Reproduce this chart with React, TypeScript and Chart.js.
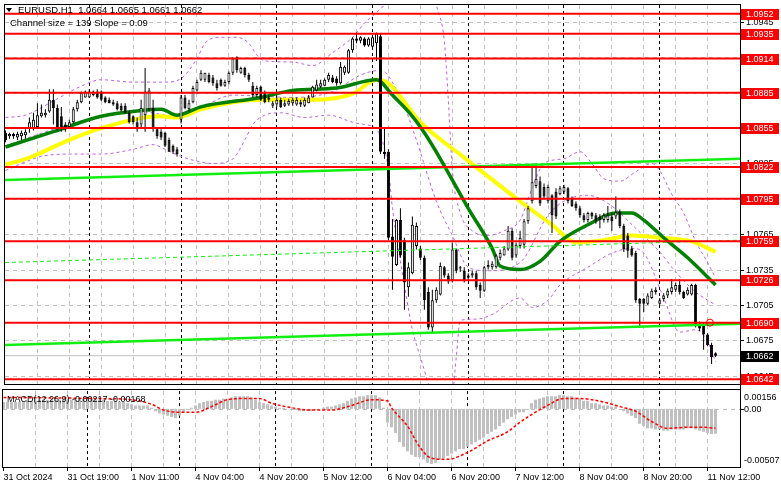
import React, { useEffect, useRef } from "react";
import { Chart, registerables } from "chart.js";

Chart.register(...registerables);

// ---------------- DATA ----------------
const SYMBOL = "EURUSD,H1";
const CHANNEL_TEXT = "Channel size = 139 Slope = 0.09";
const MACD_TEXT = "MACD(12,26,9) -0.00217 -0.00168";

const opens = [
  1.0851,1.0848,1.0850,1.0847,1.0848,1.0849,1.0855,1.0855,1.0856,1.0865,
  1.0866,1.0869,1.0879,1.0872,1.0865,1.0858,1.0856,1.0860,1.0871,1.0877,
  1.0881,1.0881,1.0883,1.0886,1.0886,1.0881,1.0879,1.0877,1.0876,1.0874,
  1.0874,1.0868,1.0865,1.0860,1.0858,1.0866,1.0871,1.0872,1.0854,1.0852,
  1.0851,1.0845,1.0840,1.0837,1.0862,1.0881,1.0871,1.0877,1.0887,1.0896,
  1.0896,1.0900,1.0898,1.0893,1.0896,1.0891,1.0894,1.0902,1.0915,1.0902,
  1.0906,1.0900,1.0891,1.0883,1.0890,1.0885,1.0881,1.0874,1.0875,1.0879,
  1.0874,1.0875,1.0876,1.0875,1.0877,1.0874,1.0876,1.0881,1.0887,1.0890,
  1.0891,1.0896,1.0898,1.0897,1.0893,1.0902,1.0902,1.0921,1.0931,1.0929,
  1.0931,1.0925,1.0924,1.0927,1.0933,1.0835,1.0835,1.0763,1.0739,1.0777,
  1.0760,1.0720,1.0732,1.0755,1.0753,1.0745,1.0716,1.0686,1.0709,1.0714,
  1.0737,1.0730,1.0726,1.0752,1.0737,1.0734,1.0730,1.0730,1.0732,1.0722,
  1.0717,1.0737,1.0737,1.0737,1.0745,1.0747,1.0752,1.0768,1.0747,1.0755,
  1.0756,1.0776,1.0793,1.0806,1.0810,1.0805,1.0793,1.0798,1.0801,1.0799,
  1.0801,1.0804,1.0795,1.0791,1.0787,1.0781,1.0777,1.0783,1.0781,1.0780,
  1.0777,1.0777,1.0780,1.0780,1.0784,1.0772,1.0764,1.0753,1.0749,1.0710,
  1.0710,1.0706,1.0711,1.0716,1.0706,1.0710,1.0713,1.0716,1.0718,1.0722,
  1.0716,1.0714,1.0714,1.0722,1.0689,1.0688,1.0680,1.0671,1.0664,
];
const highs = [
  1.0853,1.0851,1.0851,1.0852,1.0853,1.0854,1.0864,1.0868,1.0876,1.0875,
  1.0871,1.0888,1.0888,1.0875,1.0873,1.0860,1.0862,1.0873,1.0879,1.0886,
  1.0887,1.0888,1.0887,1.0888,1.0887,1.0882,1.0881,1.0879,1.0878,1.0876,
  1.0876,1.0870,1.0866,1.0864,1.0879,1.0906,1.0889,1.0879,1.0855,1.0854,
  1.0852,1.0847,1.0841,1.0839,1.0883,1.0883,1.0879,1.0891,1.0896,1.0904,
  1.0902,1.0902,1.0900,1.0896,1.0897,1.0896,1.0903,1.0915,1.0916,1.0907,
  1.0907,1.0902,1.0894,1.0891,1.0891,1.0887,1.0883,1.0878,1.0881,1.0881,
  1.0879,1.0880,1.0881,1.0881,1.0879,1.0881,1.0883,1.0891,1.0896,1.0896,
  1.0897,1.0902,1.0900,1.0899,1.0911,1.0908,1.0922,1.0932,1.0936,1.0933,
  1.0932,1.0932,1.0933,1.0936,1.0935,1.0856,1.0837,1.0778,1.0778,1.0787,
  1.0762,1.0741,1.0780,1.0775,1.0755,1.0747,1.0720,1.0718,1.0720,1.0741,
  1.0738,1.0732,1.0758,1.0753,1.0738,1.0737,1.0732,1.0734,1.0734,1.0724,
  1.0738,1.0743,1.0742,1.0748,1.0752,1.0755,1.0772,1.0770,1.0758,1.0768,
  1.0778,1.0789,1.0825,1.0825,1.0814,1.0808,1.0807,1.0799,1.0804,1.0806,
  1.0807,1.0805,1.0797,1.0793,1.0789,1.0783,1.0784,1.0784,1.0783,1.0782,
  1.0783,1.0789,1.0783,1.0797,1.0786,1.0774,1.0766,1.0755,1.0751,1.0711,
  1.0711,1.0715,1.0719,1.0720,1.0711,1.0715,1.0719,1.0727,1.0724,1.0727,
  1.0717,1.0720,1.0723,1.0723,1.0691,1.0690,1.0681,1.0673,1.0665,
];
const lows = [
  1.0843,1.0846,1.0846,1.0845,1.0845,1.0846,1.0851,1.0853,1.0855,1.0864,
  1.0864,1.0868,1.0858,1.0853,1.0852,1.0852,1.0855,1.0859,1.0869,1.0876,
  1.0881,1.0881,1.0882,1.0880,1.0878,1.0876,1.0876,1.0874,1.0870,1.0869,
  1.0867,1.0859,1.0858,1.0852,1.0855,1.0852,1.0869,1.0852,1.0846,1.0845,
  1.0839,1.0835,1.0833,1.0831,1.0859,1.0871,1.0869,1.0876,1.0886,1.0895,
  1.0894,1.0893,1.0891,1.0887,1.0890,1.0890,1.0892,1.0900,1.0902,1.0901,
  1.0898,1.0894,1.0881,1.0881,1.0878,1.0876,1.0877,1.0872,1.0873,1.0872,
  1.0873,1.0874,1.0874,1.0874,1.0873,1.0873,1.0876,1.0881,1.0886,1.0889,
  1.0891,1.0894,1.0893,1.0891,1.0892,1.0900,1.0901,1.0919,1.0927,1.0927,
  1.0924,1.0924,1.0923,1.0912,1.0833,1.0829,1.0760,1.0718,1.0738,1.0745,
  1.0701,1.0712,1.0731,1.0752,1.0743,1.0701,1.0684,1.0681,1.0707,1.0713,
  1.0728,1.0723,1.0724,1.0732,1.0733,1.0724,1.0726,1.0728,1.0718,1.0711,
  1.0716,1.0735,1.0735,1.0736,1.0743,1.0747,1.0751,1.0743,1.0745,1.0753,
  1.0753,1.0774,1.0791,1.0804,1.0789,1.0795,1.0791,1.0766,1.0778,1.0798,
  1.0799,1.0791,1.0788,1.0785,1.0779,1.0775,1.0775,1.0778,1.0774,1.0770,
  1.0775,1.0775,1.0768,1.0778,1.0770,1.0750,1.0745,1.0746,1.0707,1.0686,
  1.0699,1.0705,1.0710,1.0714,1.0704,1.0708,1.0711,1.0714,1.0716,1.0714,
  1.0710,1.0713,1.0713,1.0686,1.0683,1.0667,1.0670,1.0655,1.0661,
];
const closes = [
  1.0845,1.0850,1.0848,1.0850,1.0851,1.0852,1.0860,1.0862,1.0866,1.0868,
  1.0868,1.0879,1.0872,1.0855,1.0854,1.0854,1.0860,1.0871,1.0877,1.0885,
  1.0886,1.0886,1.0886,1.0881,1.0879,1.0877,1.0876,1.0875,1.0871,1.0870,
  1.0868,1.0860,1.0860,1.0854,1.0872,1.0886,1.0887,1.0854,1.0848,1.0847,
  1.0840,1.0835,1.0835,1.0833,1.0881,1.0872,1.0876,1.0889,1.0894,1.0902,
  1.0902,1.0894,1.0893,1.0889,1.0891,1.0894,1.0902,1.0914,1.0904,1.0906,
  1.0900,1.0896,1.0883,1.0889,1.0879,1.0877,1.0879,1.0876,1.0879,1.0873,
  1.0876,1.0878,1.0879,1.0879,1.0875,1.0879,1.0881,1.0890,1.0892,1.0893,
  1.0896,1.0900,1.0894,1.0893,1.0907,1.0907,1.0921,1.0931,1.0929,1.0932,
  1.0925,1.0931,1.0932,1.0935,1.0835,1.0833,1.0762,1.0746,1.0777,1.0747,
  1.0724,1.0737,1.0773,1.0772,1.0745,1.0709,1.0686,1.0709,1.0718,1.0738,
  1.0730,1.0725,1.0752,1.0734,1.0736,1.0726,1.0728,1.0732,1.0720,1.0717,
  1.0737,1.0739,1.0740,1.0747,1.0749,1.0753,1.0768,1.0745,1.0756,1.0762,
  1.0776,1.0787,1.0809,1.0812,1.0791,1.0797,1.0805,1.0781,1.0780,1.0804,
  1.0805,1.0793,1.0789,1.0787,1.0781,1.0777,1.0783,1.0780,1.0776,1.0777,
  1.0781,1.0781,1.0776,1.0784,1.0772,1.0752,1.0751,1.0747,1.0709,1.0706,
  1.0706,1.0713,1.0717,1.0718,1.0709,1.0713,1.0717,1.0720,1.0722,1.0716,
  1.0711,1.0718,1.0722,1.0688,1.0685,1.0680,1.0671,1.0661,1.0662,
];

// moving averages (bar index, value)
const maSlowBars = [0, 6, 16, 24, 39, 43, 49, 64, 77, 87, 93, 96, 104, 115, 129, 137, 143, 150, 157, 164, 172, 178];
const maSlowVals = [1.0824, 1.0830, 1.0845, 1.0855, 1.0865, 1.0864, 1.0871, 1.0879, 1.0879, 1.0884, 1.0896, 1.0893, 1.0860, 1.0830, 1.0793, 1.0773, 1.0758, 1.0760, 1.0764, 1.0762, 1.0759, 1.0750];
const maFastBars = [0, 12, 24, 34, 39, 43, 49, 64, 72, 83, 93, 97, 102, 105, 109, 116, 122, 124, 129, 134, 139, 146, 153, 157, 160, 165, 171, 178];
const maFastVals = [1.0839, 1.0852, 1.0865, 1.0870, 1.0871, 1.0866, 1.0873, 1.0881, 1.0887, 1.0889, 1.0896, 1.0883, 1.0865, 1.0851, 1.0829, 1.0787, 1.0753, 1.0738, 1.0735, 1.0742, 1.0759, 1.0773, 1.0783, 1.0783, 1.0777, 1.0762, 1.0745, 1.0722];

// Bollinger bands
const bbUpperBars = [0, 5, 12, 18, 24, 32, 40, 44, 48, 50, 54, 58, 61, 63, 65, 72, 77, 82, 87, 90, 93, 95, 99, 104, 107, 108, 110, 111, 112, 114, 117, 121, 125, 129, 132, 135, 140, 144, 147, 150, 154, 158, 162, 164, 167, 170, 173, 176, 178];
const bbUpperVals = [1.0864, 1.0866, 1.0878, 1.0889, 1.0896, 1.0894, 1.0894, 1.0897, 1.0914, 1.0927, 1.0932, 1.0932, 1.0927, 1.0917, 1.0912, 1.0911, 1.0908, 1.0919, 1.0932, 1.0944, 1.0953, 1.0960, 1.0988, 1.0996, 1.0979, 1.0960, 1.0929, 1.0879, 1.0820, 1.0783, 1.0768, 1.0764, 1.0768, 1.0777, 1.0804, 1.0825, 1.0829, 1.0835, 1.0825, 1.0812, 1.0810, 1.0818, 1.0825, 1.0819, 1.0799, 1.0783, 1.0759, 1.0741, 1.0728];
const bbMidBars = [0, 12, 24, 34, 40, 44, 49, 57, 64, 72, 82, 89, 94, 100, 103, 108, 112, 116, 121, 129, 136, 140, 146, 152, 154, 158, 164, 168, 173, 178];
const bbMidVals = [1.0840, 1.0854, 1.0865, 1.0869, 1.0866, 1.0864, 1.0872, 1.0883, 1.0882, 1.0881, 1.0886, 1.0900, 1.0904, 1.0873, 1.0845, 1.0793, 1.0764, 1.0737, 1.0734, 1.0741, 1.0781, 1.0793, 1.0798, 1.0789, 1.0783, 1.0770, 1.0750, 1.0733, 1.0716, 1.0705];
const bbLowerBars = [0, 4, 9, 17, 24, 32, 37, 40, 44, 48, 52, 57, 60, 62, 65, 69, 75, 81, 87, 90, 93, 96, 97, 100, 102, 104, 107, 109, 112, 113, 114, 118, 122, 129, 132, 136, 139, 146, 152, 157, 160, 165, 169, 173, 176, 178];
const bbLowerVals = [1.0819, 1.0825, 1.0831, 1.0833, 1.0833, 1.0837, 1.0841, 1.0837, 1.0831, 1.0827, 1.0825, 1.0829, 1.0845, 1.0858, 1.0866, 1.0868, 1.0864, 1.0866, 1.0860, 1.0858, 1.0854, 1.0820, 1.0787, 1.0722, 1.0684, 1.0661, 1.0628, 1.0611, 1.0628, 1.0661, 1.0692, 1.0693, 1.0697, 1.0711, 1.0703, 1.0709, 1.0722, 1.0737, 1.0749, 1.0753, 1.0749, 1.0711, 1.0682, 1.0684, 1.0674, 1.0657];

// regression channel (start, end)
const channelEnds = [-0.125, 184.125];
const channelUpper = [1.0811, 1.0829];
const channelMiddle = [1.0741, 1.0760];
const channelLower = [1.0671, 1.0689];

// horizontal levels
const levels = [1.0952, 1.0935, 1.0914, 1.0885, 1.0855, 1.0822, 1.0795, 1.0759, 1.0726, 1.0690, 1.0642];
const priceTicks = [1.0945, 1.0915, 1.0885, 1.0855, 1.0825, 1.0795, 1.0765, 1.0735, 1.0705, 1.0675, 1.0645];
const bidPrice = 1.0662;
const alertBar = 176.6;
const alertPrice = 1.0690;

// MACD
const macdHist = [
  0.0006,0.0006,0.0006,0.0006,0.0006,0.0006,0.0007,0.0007,0.0007,0.0008,
  0.0008,0.0008,0.0008,0.0008,0.0008,0.0008,0.0008,0.0008,0.0008,0.0009,
  0.0009,0.0009,0.0009,0.0008,0.0008,0.0008,0.0007,0.0007,0.0007,0.0006,
  0.0006,0.0005,0.0004,0.0003,0.0003,0.0003,0.0003,0.0001,-0.0002,-0.0004,
  -0.0005,-0.0006,-0.0007,-0.0008,-0.0006,-0.0003,-0.0001,0.0001,0.0003,0.0005,
  0.0006,0.0007,0.0007,0.0008,0.0008,0.0009,0.0009,0.0010,0.0011,0.0011,
  0.0011,0.0011,0.0010,0.0008,0.0006,0.0005,0.0004,0.0003,0.0002,0.0001,
  0.0001,0.0000,-0.0001,-0.0001,-0.0002,-0.0002,-0.0002,-0.0002,-0.0001,0.0000,
  0.0001,0.0002,0.0002,0.0003,0.0004,0.0005,0.0007,0.0009,0.0010,0.0011,
  0.0011,0.0012,0.0012,0.0012,0.0010,0.0001,-0.0012,-0.0016,-0.0021,-0.0029,
  -0.0033,-0.0037,-0.0040,-0.0042,-0.0042,-0.0044,-0.0047,-0.0048,-0.0047,-0.0044,
  -0.0043,-0.0041,-0.0039,-0.0037,-0.0035,-0.0035,-0.0033,-0.0031,-0.0029,-0.0027,
  -0.0025,-0.0022,-0.0020,-0.0018,-0.0015,-0.0012,-0.0009,-0.0007,-0.0005,-0.0003,
  -0.0003,-0.0001,0.0005,0.0008,0.0009,0.0010,0.0011,0.0011,0.0011,0.0012,
  0.0012,0.0011,0.0011,0.0010,0.0009,0.0007,0.0007,0.0005,0.0005,0.0004,
  0.0003,0.0003,0.0002,0.0002,0.0000,-0.0002,-0.0004,-0.0006,-0.0008,-0.0013,
  -0.0015,-0.0017,-0.0017,-0.0018,-0.0018,-0.0019,-0.0019,-0.0018,-0.0018,-0.0018,
  -0.0018,-0.0017,-0.0017,-0.0018,-0.0019,-0.0020,-0.0021,-0.0022,-0.00217,
];
const signalBars = [0, 24, 32, 37, 40, 44, 48, 52, 56, 60, 64, 67, 72, 77, 82, 87, 92, 96, 97, 101, 104, 107, 111, 116, 121, 126, 129, 132, 136, 140, 144, 150, 154, 158, 162, 166, 171, 174, 178];
const signalVals = [0.0010, 0.0009, 0.0008, 0.0004, -0.0001, -0.0003, -0.0003, 0.0002, 0.0008, 0.0009, 0.0009, 0.0005, 0.0001, -0.0001, -0.0001, 0.0003, 0.0008, 0.0007, 0.0001, -0.0015, -0.0033, -0.0043, -0.0044, -0.0038, -0.0028, -0.0020, -0.0012, -0.0005, 0.0003, 0.0009, 0.0009, 0.0006, 0.0002, -0.0002, -0.0011, -0.0017, -0.0016, -0.0016, -0.00168];
const macdMaxLabel = "0.00156";
const macdZeroLabel = "0.00";
const macdMinLabel = "-0.00507";

// time axis
const xLabelBars = [0, 16, 32, 48, 64, 80, 96, 112, 128, 144, 160, 176];
const xLabels = ["31 Oct 2024", "31 Oct 19:00", "1 Nov 11:00", "4 Nov 04:00", "4 Nov 20:00", "5 Nov 12:00", "6 Nov 04:00", "6 Nov 20:00", "7 Nov 12:00", "8 Nov 04:00", "8 Nov 20:00", "11 Nov 12:00"];
const gridBars = [8, 16, 24, 32, 40, 48, 56, 64, 72, 80, 88, 96, 104, 112, 120, 128, 136, 144, 152, 160, 168, 176];
const daySeparatorBars = [21, 44, 68, 92, 116, 140, 164];

// axis ranges
const X_MIN = -0.125, X_MAX = 184.125;
const Y_MIN = 1.06380, Y_MAX = 1.09594;
const M_MIN = -0.00507, M_MAX = 0.00156;

// ---------------- STYLE ----------------
const FONT = '9px "Liberation Sans", Arial, sans-serif';
const GRID = "#C0C0C0";
const BB = "#C060E0";
const LIME = "#10F010";
const RED = "#FF0000";

const pts = (xs: number[], ys: number[]) => xs.map((x, i) => ({ x, y: ys[i] }));

function vline(ctx: CanvasRenderingContext2D, x: number, y1: number, y2: number) {
  ctx.beginPath(); ctx.moveTo(x, y1); ctx.lineTo(x, y2); ctx.stroke();
}
function hline(ctx: CanvasRenderingContext2D, x1: number, x2: number, y: number) {
  ctx.beginPath(); ctx.moveTo(x1, y); ctx.lineTo(x2, y); ctx.stroke();
}

function drawVerticalGrid(chart: any) {
  const { ctx, chartArea: a, scales } = chart;
  const x = scales.x;
  ctx.save();
  ctx.lineWidth = 1;
  ctx.setLineDash([4, 4]);
  ctx.strokeStyle = GRID;
  for (const b of gridBars) vline(ctx, Math.floor(x.getPixelForValue(b)) + 0.5, a.top, a.bottom);
  ctx.setLineDash([3, 3]);
  ctx.strokeStyle = "#000";
  for (const b of daySeparatorBars) vline(ctx, Math.floor(x.getPixelForValue(b)) + 0.5, a.top, a.bottom);
  ctx.restore();
}

const mainDecor = {
  id: "mainDecor",
  beforeDraw(chart: any) {
    const { ctx, chartArea: a, scales } = chart;
    ctx.save();
    ctx.fillStyle = "#fff";
    ctx.fillRect(0, 0, chart.width, chart.height);
    ctx.lineWidth = 1;
    ctx.setLineDash([4, 4]);
    ctx.strokeStyle = GRID;
    for (const t of priceTicks) hline(ctx, a.left, a.right, Math.round(scales.y.getPixelForValue(t)) + 0.5);
    ctx.restore();
    drawVerticalGrid(chart);
  },
  afterDraw(chart: any) {
    const { ctx, chartArea: a, scales } = chart;
    const y = scales.y;
    ctx.save();
    ctx.setLineDash([]);
    ctx.lineWidth = 1;
    ctx.strokeStyle = "#000";
    ctx.strokeRect(a.left - 0.5, a.top - 0.5, a.right - a.left + 1, a.bottom - a.top + 1);
    vline(ctx, a.right + 0.5, a.bottom, chart.height);
    ctx.font = FONT;
    ctx.textBaseline = "middle";
    ctx.textAlign = "left";
    // tick labels
    ctx.fillStyle = "#000";
    for (const t of priceTicks) {
      const py = Math.round(y.getPixelForValue(t));
      hline(ctx, a.right + 1, a.right + 4, py + 0.5);
      ctx.fillText(t.toFixed(4), a.right + 6, py + 1);
    }
    // level labels
    for (const L of levels) {
      const py = Math.round(y.getPixelForValue(L));
      ctx.fillStyle = RED;
      ctx.fillRect(a.right + 1, py - 5, 38, 11);
      ctx.fillStyle = "#fff";
      ctx.fillText(L.toFixed(4), a.right + 6, py + 0.5);
    }
    // bid label
    {
      const py = Math.round(y.getPixelForValue(bidPrice));
      ctx.fillStyle = "#000";
      ctx.fillRect(a.right + 1, py - 5, 38, 11);
      ctx.fillStyle = "#fff";
      ctx.fillText(bidPrice.toFixed(4), a.right + 6, py + 0.5);
    }
    // header
    ctx.fillStyle = "#000";
    ctx.beginPath();
    ctx.moveTo(6, 8); ctx.lineTo(12, 8); ctx.lineTo(9, 12); ctx.closePath(); ctx.fill();
    const n = opens.length - 1;
    const head = `${SYMBOL}  ${opens[n].toFixed(4)} ${highs[n].toFixed(4)} ${lows[n].toFixed(4)} ${closes[n].toFixed(4)}`;
    ctx.font = '9.5px "Liberation Sans", Arial, sans-serif';
    ctx.fillText(head, 18, 10.5);
    ctx.fillText(CHANNEL_TEXT, 10, 23.5);
    ctx.restore();
  },
};

const macdDecor = {
  id: "macdDecor",
  beforeDraw(chart: any) {
    const { ctx, chartArea: a, scales } = chart;
    ctx.save();
    ctx.fillStyle = "#fff";
    ctx.fillRect(0, 0, chart.width, chart.height);
    ctx.lineWidth = 1;
    ctx.setLineDash([4, 4]);
    ctx.strokeStyle = GRID;
    hline(ctx, a.left, a.right, Math.round(scales.y.getPixelForValue(0)) + 0.5);
    ctx.restore();
    drawVerticalGrid(chart);
  },
  afterDraw(chart: any) {
    const { ctx, chartArea: a, scales } = chart;
    const x = scales.x, y = scales.y;
    ctx.save();
    ctx.setLineDash([]);
    ctx.lineWidth = 1;
    ctx.strokeStyle = "#000";
    ctx.strokeRect(a.left - 0.5, 0.5, a.right - a.left + 1, a.bottom);
    vline(ctx, a.right + 0.5, 0, a.bottom + 0.5);
    ctx.font = FONT;
    ctx.textBaseline = "middle";
    ctx.textAlign = "left";
    ctx.fillStyle = "#000";
    ctx.fillText(macdMaxLabel, a.right + 4, y.getPixelForValue(M_MAX) + 7);
    ctx.fillText(macdZeroLabel, a.right + 4, y.getPixelForValue(0) + 0.5);
    ctx.fillText(macdMinLabel, a.right + 4, y.getPixelForValue(M_MIN) - 6);
    hline(ctx, a.right + 1, a.right + 4, Math.round(y.getPixelForValue(0)) + 0.5);
    ctx.fillText(MACD_TEXT, 7, 10.5);
    // time axis
    xLabelBars.forEach((b, i) => {
      const px = Math.floor(x.getPixelForValue(b)) + 0.5;
      vline(ctx, px, a.bottom + 1, a.bottom + 4);
      ctx.fillText(xLabels[i], px, a.bottom + 10.5);
    });
    ctx.restore();
  },
};

export default function App() {
  const mainRef = useRef<HTMLCanvasElement>(null);
  const macdRef = useRef<HTMLCanvasElement>(null);

  useEffect(() => {
    const candleFill = opens.map((o, i) => (closes[i] >= o ? "#ffffff" : "#000000"));
    const levelSets = levels.map((L) => ({
      type: "line" as const,
      label: `level ${L}`,
      data: pts(channelEnds, [L, L]),
      borderColor: RED,
      borderWidth: 2,
      pointRadius: 0,
      order: 30,
    }));

    const main = new Chart(mainRef.current!, {
      type: "bar",
      data: {
        datasets: [
          { type: "line", label: "BB upper", data: pts(bbUpperBars, bbUpperVals), borderColor: BB, borderWidth: 1, borderDash: [3, 3], pointRadius: 0, cubicInterpolationMode: "monotone", order: 100 },
          { type: "line", label: "BB middle", data: pts(bbMidBars, bbMidVals), borderColor: BB, borderWidth: 1, borderDash: [3, 3], pointRadius: 0, cubicInterpolationMode: "monotone", order: 100 },
          { type: "line", label: "BB lower", data: pts(bbLowerBars, bbLowerVals), borderColor: BB, borderWidth: 1, borderDash: [3, 3], pointRadius: 0, cubicInterpolationMode: "monotone", order: 100 },
          { type: "line", label: "Bid", data: pts(channelEnds, [bidPrice, bidPrice]), borderColor: "#C0C0C0", borderWidth: 1, pointRadius: 0, order: 95 },
          { type: "line", label: "MA slow", data: pts(maSlowBars, maSlowVals), borderColor: "#FFFF00", borderWidth: 4, pointRadius: 0, cubicInterpolationMode: "monotone", order: 85 },
          { type: "line", label: "MA fast", data: pts(maFastBars, maFastVals), borderColor: "#008000", borderWidth: 3.5, pointRadius: 0, cubicInterpolationMode: "monotone", order: 80 },
          { type: "bar", label: "Wicks", data: opens.map((_, i) => ({ x: i, y: [lows[i], highs[i]] })) as any, backgroundColor: "#000", borderWidth: 0, barThickness: 1, grouped: false, inflateAmount: 0, order: 60 } as any,
          { type: "bar", label: "Bodies", data: opens.map((o, i) => ({ x: i, y: [o, closes[i]] })) as any, backgroundColor: candleFill, borderColor: "#000", borderWidth: 1, borderSkipped: false, barThickness: 3, grouped: false, inflateAmount: 0, minBarLength: 1, order: 50 } as any,
          { type: "line", label: "Channel upper", data: pts(channelEnds, channelUpper), borderColor: LIME, borderWidth: 2.5, pointRadius: 0, order: 40 },
          { type: "line", label: "Channel middle", data: pts(channelEnds, channelMiddle), borderColor: LIME, borderWidth: 1, borderDash: [4, 3], pointRadius: 0, order: 40 },
          { type: "line", label: "Channel lower", data: pts(channelEnds, channelLower), borderColor: LIME, borderWidth: 2.5, pointRadius: 0, order: 40 },
          ...levelSets,
          { type: "scatter", label: "Alert", data: [{ x: alertBar, y: alertPrice }], pointRadius: 3.5, borderColor: RED, backgroundColor: "rgba(0,0,0,0)", borderWidth: 1, order: 20 } as any,
        ] as any,
      },
      options: {
        responsive: false,
        animation: false,
        devicePixelRatio: 1,
        events: [],
        layout: { padding: { left: 3, top: 3, right: 41, bottom: 2 } },
        plugins: { legend: { display: false }, tooltip: { enabled: false } },
        scales: {
          x: { type: "linear", min: X_MIN, max: X_MAX, display: false, offset: false },
          y: { type: "linear", min: Y_MIN, max: Y_MAX, display: false },
        },
      },
      plugins: [mainDecor],
    });

    const macd = new Chart(macdRef.current!, {
      type: "bar",
      data: {
        datasets: [
          { type: "line", label: "Signal", data: pts(signalBars, signalVals), borderColor: RED, borderWidth: 1.5, borderDash: [3, 2], pointRadius: 0, cubicInterpolationMode: "monotone", order: 1 },
          { type: "bar", label: "MACD", data: macdHist.map((v, i) => ({ x: i, y: v })), backgroundColor: "#C0C0C0", borderWidth: 0, barThickness: 3, grouped: false, inflateAmount: 0, order: 2 } as any,
        ] as any,
      },
      options: {
        responsive: false,
        animation: false,
        devicePixelRatio: 1,
        events: [],
        layout: { padding: { left: 3, top: 2, right: 41, bottom: 22 } },
        plugins: { legend: { display: false }, tooltip: { enabled: false } },
        scales: {
          x: { type: "linear", min: X_MIN, max: X_MAX, display: false, offset: false },
          y: { type: "linear", min: M_MIN, max: M_MAX, display: false },
        },
      },
      plugins: [macdDecor],
    });

    return () => {
      main.destroy();
      macd.destroy();
    };
  }, []);

  return (
    <div style={{ position: "absolute", left: 0, top: 0, width: 781, height: 489, background: "#fff", overflow: "hidden" }}>
      <canvas ref={mainRef} width={781} height={389} style={{ position: "absolute", left: 0, top: 0, width: 781, height: 389 }} />
      <canvas ref={macdRef} width={781} height={100} style={{ position: "absolute", left: 0, top: 389, width: 781, height: 100 }} />
    </div>
  );
}
